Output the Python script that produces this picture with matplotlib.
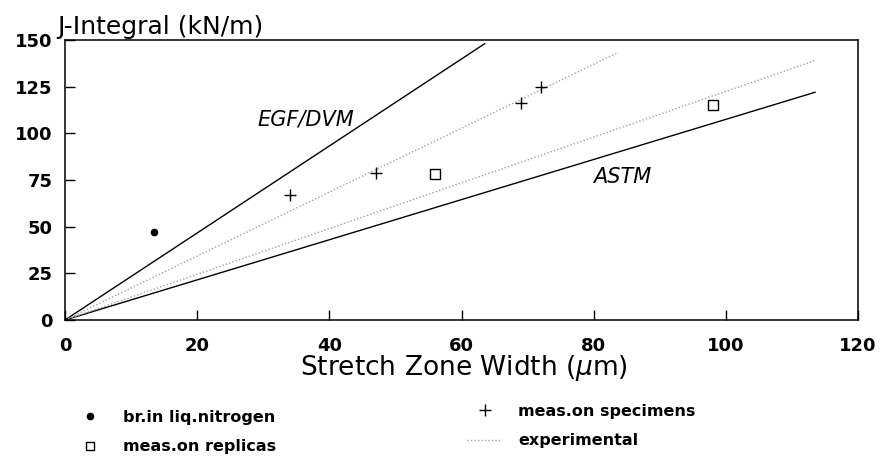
import matplotlib
matplotlib.use("Agg")
import matplotlib.pyplot as plt
from matplotlib.lines import Line2D

# ---- data ----
nitrogen_x = [13.5]
nitrogen_y = [47]
replica_x = [56, 98]
replica_y = [78, 115]
specimen_x = [34, 47, 69, 72]
specimen_y = [67, 79, 116, 125]

egf_x = [0, 63.5]
egf_y = [0, 148]
astm_x = [0, 113.5]
astm_y = [0, 122]
exp1_x = [0, 83.5]
exp1_y = [0, 143]
exp2_x = [0, 113.5]
exp2_y = [0, 139]

x_ticks = [0, 20, 40, 60, 80, 100, 120]
y_ticks = [0, 25, 50, 75, 100, 125, 150]

W, H = 882, 469
fig = plt.figure(figsize=(W / 100, H / 100), dpi=100)
ax = fig.add_axes([65 / W, 1 - 320 / H, 793 / W, 280 / H])

DOT = (0, (1, 1.5))
GRAY = "#a0a0a0"

ax.plot(egf_x, egf_y, color="black", lw=1.0)
ax.plot(astm_x, astm_y, color="black", lw=1.0)
ax.plot(exp1_x, exp1_y, color=GRAY, lw=1.0, ls=DOT)
ax.plot(exp2_x, exp2_y, color=GRAY, lw=1.0, ls=DOT)

ax.plot(nitrogen_x, nitrogen_y, "o", color="black", ms=4.5, ls="none")
ax.plot(replica_x, replica_y, "s", mfc="white", mec="black", mew=1.0, ms=6.5, ls="none")
ax.plot(specimen_x, specimen_y, "+", color="black", mew=1.0, ms=9, ls="none")

ax.text(36.5, 107.5, "EGF/DVM", style="italic", fontsize=15, ha="center", va="center",
        family="DejaVu Sans", fontweight="light")
ax.text(84.3, 76.5, "ASTM", style="italic", fontsize=15, ha="center", va="center",
        family="DejaVu Sans", fontweight="light")

ax.set_xlim(0, 120)
ax.set_ylim(0, 150)
ax.set_xticks(x_ticks)
ax.set_yticks(y_ticks)
ax.tick_params(direction="in", length=7, width=1)
ax.tick_params(axis="x", pad=12)
ax.tick_params(axis="y", pad=9)
for lab in ax.get_xticklabels() + ax.get_yticklabels():
    lab.set_fontsize(13)
    lab.set_fontweight("bold")
    lab.set_family("DejaVu Sans")
for s in ax.spines.values():
    s.set_linewidth(1.1)

ax.set_xlabel("Stretch Zone Width ($\\mu$m)", fontsize=19, family="DejaVu Sans",
              va="center")
ax.xaxis.set_label_coords((464 - 65) / 793, (320 - 368) / 280)
fig.text(57 / W, 1 - 27 / H, "J-Integral (kN/m)", fontsize=18, family="DejaVu Sans",
         ha="left", va="center")

handles = [
    Line2D([], [], marker="o", color="black", ms=4.5, ls="none"),
    Line2D([], [], marker="s", mfc="white", mec="black", ms=5.5, ls="none"),
    Line2D([], [], marker="+", color="black", ms=9, ls="none"),
    Line2D([], [], color=GRAY, lw=1.0, ls=DOT),
]
labels = ["br.in liq.nitrogen", "meas.on replicas", "meas.on specimens", "experimental"]
prop = {"family": "DejaVu Sans", "weight": "bold", "size": 11.5}
common = dict(loc="upper left", frameon=False, handlelength=2.2, handletextpad=1.0,
              labelspacing=0.9, borderpad=0, borderaxespad=0, prop=prop)
fig.legend(handles[:2], labels[:2], bbox_to_anchor=(72 / W, 1 - 410 / H), **common)
fig.legend(handles[2:], labels[2:], bbox_to_anchor=(467 / W, 1 - 404 / H), **common)

fig.savefig("out.png", dpi=100)
